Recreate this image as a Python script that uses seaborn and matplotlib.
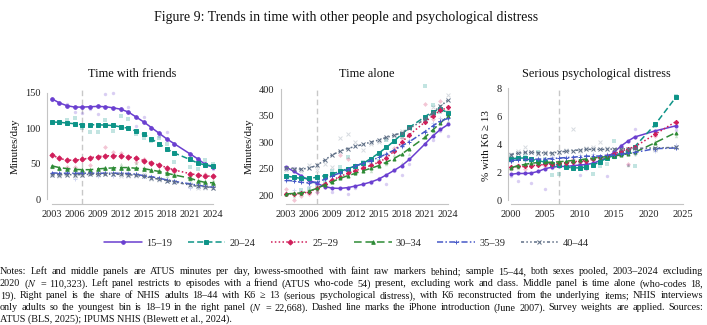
import matplotlib
matplotlib.use("Agg")
import numpy as np
import pandas as pd
import seaborn as sns
import matplotlib.pyplot as plt

groups = ["15–19", "20–24", "25–29", "30–34", "35–39", "40–44"]
colors = ["#6a3fd0", "#0e9488", "#d01e5a", "#2e8b36", "#4659c8", "#5f6f86"]
markers = ["o", "s", "D", "^", "+", "x"]
styles = ["-", (0, (4, 2)), (0, (1, 1.5)), (0, (5, 2.5)), (0, (4, 1.5, 1, 1.5)), (0, (2, 1.5, 1, 1.5, 1, 1.5))]

atus_years = [2003, 2004, 2005, 2006, 2007, 2008, 2009, 2010, 2011, 2012, 2013,
              2014, 2015, 2016, 2017, 2018, 2019, 2021, 2022, 2023, 2024]
nhis_years = [2000, 2001, 2002, 2003, 2004, 2005, 2006, 2007, 2008, 2009, 2010,
              2011, 2012, 2013, 2014, 2015, 2016, 2017, 2018, 2021, 2024]

# time with friends (smoothed / raw)
friends = [
    [142, 136, 132, 130, 130, 130.5, 131, 130.5, 129, 127, 123, 116, 109, 101, 93, 85, 78, 64, 57, 49, 45],
    [109, 108.5, 107.5, 106.5, 105, 105, 105, 104.5, 104, 102, 100, 96, 91.5, 85, 78, 71, 65, 56, 51, 48, 47],
    [62.5, 57.5, 55, 55, 56, 58.5, 60, 61, 61.5, 61, 60, 57.5, 54.5, 51, 48, 44.5, 41, 36, 34, 32.5, 32.5],
    [47, 44.5, 43, 42, 41.5, 41.5, 42.5, 43.5, 44, 44.5, 44.5, 43.5, 43, 41, 39, 36.5, 34, 29.5, 26, 23.5, 23],
    [37, 36.5, 36.5, 36.5, 36.5, 36.5, 36.5, 36.5, 36.5, 36.5, 36, 35, 33, 31.5, 29.5, 27, 25, 21.5, 19.5, 18, 16.5],
    [34.5, 34.5, 34.5, 34.5, 34.5, 35, 35, 35, 35, 35, 34.5, 33.5, 32, 30, 28, 26, 24, 20, 18, 17.5, 16],
]
friends_raw = [
    [140, 136, 135, 123, 121, 127, 120, 149, 150, 126, 130, 103, 116, 102, 89, 95, 76, 64, 58, 50, 42],
    [108, 107, 112, 114, 100, 95, 95, 112, 96, 117, 113, 92, 87, 82, 86, 78, 53, 45, 42, 55, 50],
    [64, 60, 45, 45, 57, 48, 59, 73, 66, 65, 58, 52, 56, 50, 47, 41, 38, 33, 33, 35, 33],
    [45, 43, 41, 40, 43, 38, 44, 42, 44, 50, 43, 51, 46, 40, 38, 33, 32, 27, 23, 20, 27],
    [34, 34, 35, 28, 37, 35, 32, 37, 33, 37, 38, 35, 32, 33, 30, 27, 24, 16, 17, 20, 18],
    [35, 33, 36, 33, 34, 37, 34, 36, 35, 33, 33, 32, 35, 29, 27, 25, 24, 21, 15, 15, 16],
]

# time alone (smoothed / raw)
alone = [
    [253, 245, 236, 228, 222, 216, 213, 212.5, 214, 217, 220.5, 224.5, 230, 238, 246.5, 255.5, 267.5, 296.5, 311.5, 324, 333.5],
    [236, 233.5, 231.5, 231.5, 233.5, 236.5, 240, 244.5, 250, 255, 260, 269, 279, 290, 302, 315, 328, 348, 358, 362, 356],
    [202, 202, 203, 206, 212.5, 221, 228, 235, 241, 246, 251, 256, 262, 270, 283, 300, 314, 338, 350, 360, 366],
    [202, 203, 204, 207.5, 212.5, 219, 225, 231.5, 236.5, 241, 246, 250.5, 255.5, 262, 269, 277.5, 288, 309, 323, 336, 350],
    [228, 226.5, 224, 223, 224.5, 229.5, 236, 242, 248.5, 255, 260, 265, 271, 277.5, 285, 293, 301, 320, 330.5, 340, 345],
    [252, 250, 249, 251, 256, 266, 276, 283, 288, 292, 296, 300, 304, 309, 313, 318, 326, 343, 356, 368, 380],
]
alone_raw = [
    [250, 252, 238, 222, 205, 219, 205, 212, 201, 213, 220, 222, 233, 221, 246, 237, 258, 296, 305, 322, 311],
    [235, 229, 210, 212, 219, 225, 245, 253, 272, 248, 263, 262, 265, 305, 300, 309, 327, 406, 370, 357, 345],
    [212, 190, 198, 201, 205, 215, 230, 275, 269, 247, 253, 255, 262, 275, 289, 307, 313, 373, 343, 377, 361],
    [205, 199, 202, 212, 210, 222, 228, 240, 250, 242, 253, 246, 262, 258, 275, 261, 278, 314, 316, 341, 340],
    [226, 210, 205, 217, 221, 230, 236, 240, 246, 256, 255, 268, 272, 280, 282, 291, 305, 322, 336, 345, 352],
    [248, 250, 246, 257, 247, 258, 253, 308, 316, 301, 286, 297, 300, 306, 312, 322, 315, 342, 366, 360, 389],
]

# share with K6 >= 13 (smoothed / raw)
distress = [
    [1.84, 1.9, 1.9, 1.93, 2.05, 2.24, 2.35, 2.4, 2.4, 2.45, 2.5, 2.54, 2.63, 2.82, 3.06, 3.4, 3.85, 4.2, 4.5, 4.94, 5.3],
    [2.94, 3.0, 3.0, 2.9, 2.82, 2.7, 2.6, 2.47, 2.35, 2.3, 2.3, 2.35, 2.5, 2.75, 3.0, 3.18, 3.34, 3.53, 3.8, 5.4, 7.34],
    [2.35, 2.4, 2.4, 2.45, 2.5, 2.54, 2.6, 2.63, 2.68, 2.73, 2.78, 2.82, 2.92, 3.06, 3.18, 3.3, 3.48, 3.65, 3.8, 4.7, 5.6],
    [2.3, 2.45, 2.54, 2.63, 2.68, 2.7, 2.7, 2.73, 2.78, 2.82, 2.87, 2.94, 3.0, 3.06, 3.1, 3.15, 3.22, 3.3, 3.4, 4.1, 4.82],
    [2.82, 2.87, 2.9, 2.9, 2.92, 2.94, 2.96, 3.0, 3.03, 3.06, 3.1, 3.13, 3.13, 3.15, 3.2, 3.22, 3.3, 3.34, 3.4, 3.67, 3.72],
    [3.25, 3.34, 3.4, 3.4, 3.39, 3.36, 3.36, 3.43, 3.48, 3.53, 3.58, 3.62, 3.62, 3.62, 3.62, 3.65, 3.65, 3.67, 3.69, 3.72, 3.76],
]
distress_raw = [
    [1.75, 1.35, 1.9, 1.2, 2.1, 0.8, 2.3, 2.5, 2.4, 2.6, 1.8, 2.2, 2.7, 2.9, 1.7, 3.3, 3.9, 2.5, 5.05, 4.9, 5.0],
    [3.1, 2.95, 3.15, 2.8, 3.4, 2.9, 1.8, 1.85, 2.4, 2.3, 2.5, 2.35, 1.85, 2.4, 2.6, 4.25, 3.2, 3.5, 2.4, 5.3, 7.45],
    [2.2, 2.5, 2.2, 2.5, 2.6, 2.4, 2.5, 2.8, 2.7, 2.9, 2.6, 2.3, 3.0, 2.9, 3.1, 3.2, 3.4, 2.6, 4.5, 4.6, 5.5],
    [2.4, 2.3, 2.6, 2.5, 2.9, 2.6, 2.8, 2.7, 2.6, 2.9, 2.8, 3.2, 3.0, 2.9, 3.2, 3.1, 3.3, 2.5, 3.3, 4.2, 4.6],
    [2.7, 3.0, 2.8, 2.8, 3.0, 2.9, 3.1, 3.0, 3.1, 3.1, 3.2, 3.2, 3.3, 3.1, 3.3, 3.2, 3.4, 3.5, 3.3, 3.5, 3.9],
    [3.3, 3.5, 3.8, 3.4, 3.3, 3.4, 3.3, 3.4, 3.6, 5.1, 3.5, 3.7, 3.8, 4.15, 3.7, 3.6, 3.7, 3.6, 3.8, 3.6, 3.8],
]

notes = [
    "Notes: Left and middle panels are ATUS minutes per day, lowess-smoothed with faint raw markers behind; sample 15–44, both sexes pooled, 2003–2024 excluding",
    "2020 ($N$ = 110,323). Left panel restricts to episodes with a friend (ATUS who-code 54) present, excluding work and class. Middle panel is time alone (who-codes 18,",
    "19). Right panel is the share of NHIS adults 18–44 with K6 ≥ 13 (serious psychological distress), with K6 reconstructed from the underlying items; NHIS interviews",
    "only adults so the youngest bin is 18–19 in the right panel ($N$ = 22,668). Dashed line marks the iPhone introduction (June 2007). Survey weights are applied. Sources:",
    "ATUS (BLS, 2025); IPUMS NHIS (Blewett et al., 2024).",
]

sns.set_theme(style="white")
plt.rcParams["font.family"] = ["Liberation Serif", "DejaVu Serif"]
plt.rcParams["mathtext.fontset"] = "stix"

W, H = 707, 325
fig = plt.figure(figsize=(W / 100, H / 100), dpi=100)


def box(x0, x1, y_top, y_bot):
    return [x0 / W, 1 - y_bot / H, (x1 - x0) / W, (y_bot - y_top) / H]


panels = [
    dict(title="Time with friends", years=atus_years, smooth=friends, raw=friends_raw,
         ylabel="Minutes/day", pos=box(47, 217.5, 88, 204), xlim=(2002.4, 2024.6), ylim=(-7, 157),
         xticks=range(2003, 2025, 3), yticks=[0, 50, 100, 150]),
    dict(title="Time alone", years=atus_years, smooth=alone, raw=alone_raw,
         ylabel="Minutes/day", pos=box(280.5, 453.5, 88, 204), xlim=(2002.3, 2024.7), ylim=(183, 402.5),
         xticks=range(2003, 2025, 3), yticks=[200, 250, 300, 350, 400]),
    dict(title="Serious psychological distress", years=nhis_years, smooth=distress, raw=distress_raw,
         ylabel="% with K6 ≥ 13", pos=box(508, 685.5, 88, 204), xlim=(1999.6, 2025.4), ylim=(-0.28, 7.93),
         xticks=range(2000, 2026, 5), yticks=[0, 2, 4, 6, 8]),
]

axes = []
for p in panels:
    ax = fig.add_axes(p["pos"])
    axes.append(ax)
    ax.axvline(2007, color="#c8c8c8", lw=1.0, ls=(0, (4, 2.5)), zorder=1)
    for g, c, m, ls, ys, yr in zip(groups, colors, markers, styles, p["smooth"], p["raw"]):
        filled = m not in ("+", "x")
        sns.scatterplot(x=p["years"], y=yr, ax=ax, color=c, marker=m, s=6 if filled else 8,
                        alpha=0.25, linewidth=0 if filled else 0.7, legend=False, zorder=2,
                        clip_on=False)
        sns.lineplot(x=p["years"], y=ys, ax=ax, color=c, marker=m, linestyle=ls, lw=1.1,
                     markersize=2.2 if filled else 3.2, markeredgecolor=c, markeredgewidth=0.7,
                     errorbar=None, label=g, zorder=3, clip_on=False)
    ax.set_xlim(*p["xlim"])
    ax.set_ylim(*p["ylim"])
    ax.set_xticks(list(p["xticks"]))
    ax.set_yticks(p["yticks"])
    ax.spines["bottom"].set_bounds(min(p["xticks"]), max(p["xticks"]))
    ax.spines["left"].set_bounds(p["yticks"][0], p["yticks"][-1])
    sns.despine(ax=ax)
    for s in ("left", "bottom"):
        ax.spines[s].set_color("#c4c4c4")
        ax.spines[s].set_linewidth(0.8)
    ax.tick_params(axis="both", labelsize=7.5, colors="#222222", length=2.5, width=0.6, pad=2)
    ax.tick_params(axis="both", color="#c4c4c4")
    ax.set_title(p["title"], fontsize=8.8, color="#111111", pad=8)
    ax.set_ylabel(p["ylabel"], fontsize=8, color="#111111", labelpad=4)
    ax.set_xlabel("")
    ax.get_legend().remove()

handles, labels = axes[0].get_legend_handles_labels()
for h in handles:
    h.set_markersize(3.5 if h.get_marker() in ("+", "x") else 2.6)
fig.legend(handles, labels, loc="center", bbox_to_anchor=(0.49, 1 - 243 / H), ncol=6, frameon=False,
           fontsize=7.5, handlelength=3.6, handletextpad=0.4, columnspacing=1.5)

fig.text(0.49, 1 - 18 / H, "Figure 9: Trends in time with other people and psychological distress",
         ha="center", va="center", fontsize=10, color="#111111")

# justified notes paragraph
renderer = fig.canvas.get_renderer()
left_px, right_px = 0, 703
line_y = [272, 284, 296, 308, 319.5]
for i, (line, ypx) in enumerate(zip(notes, line_y)):
    yy = 1 - ypx / H
    if i == len(notes) - 1:
        fig.text(left_px / W, yy, line, ha="left", va="center", fontsize=7.3, color="#111111")
        continue
    words = line.split(" ")
    texts = [fig.text(0, yy, w, ha="left", va="center", fontsize=7.3, color="#111111") for w in words]
    widths = [t.get_window_extent(renderer).width for t in texts]
    gap = (right_px - left_px - sum(widths)) / (len(words) - 1)
    xpos = left_px
    for t, w in zip(texts, widths):
        t.set_x(xpos / W)
        xpos += w + gap

fig.savefig("out.png", dpi=100)
